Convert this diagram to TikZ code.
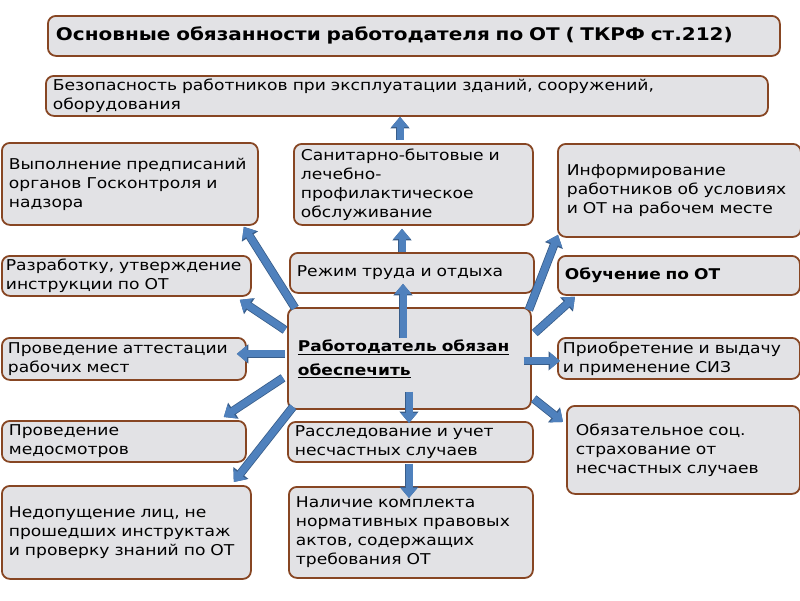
\documentclass[tikz,border=0pt]{standalone}
\usepackage{fontspec}
\setmainfont{DejaVu Sans}[FakeStretch=1.15]
\usetikzlibrary{arrows.meta,calc}
\definecolor{boxedge}{RGB}{135,70,35}
\definecolor{marble}{RGB}{226,226,229}
\definecolor{arrowblue}{RGB}{79,129,189}
\definecolor{arrowedge}{RGB}{56,93,138}
\tikzset{
  marble box/.style={
    draw=boxedge,
    line width=1.8pt,
    fill=marble,
    rounded corners=8pt,
    anchor=north west,
    align=left,
    inner xsep=7pt,
    inner ysep=0pt,
    text width={#1},
    font=\fontsize{14.9}{19}\selectfont,
  },
  bold text/.style={
    font=\fontsize{14.8}{24}\selectfont\bfseries,
  },
  fat arrow/.style={
    preaction={draw=arrowedge, line width=8.6pt, -{Triangle[width=18.5pt,length=11.5pt]}},
    draw=arrowblue,
    line width=7pt,
    -{Triangle[width=16pt,length=10pt]},
  }
}
\begin{document}
\begin{tikzpicture}[x=1pt,y=-1pt]
        \useasboundingbox (0,0) rectangle (800,600);
        \node [marble box=716pt, minimum height=40pt, inner xsep=8pt, font=\fontsize{17.4}{20}\selectfont\bfseries] (title) at (47,15) {Основные обязанности работодателя по ОТ ( ТКРФ ст.212)};
        \node [marble box=708pt, minimum height=40pt] (safety) at (45,75) {Безопасность работников при эксплуатации зданий, сооружений,\\оборудования};

        \node [marble box=242pt, minimum height=82pt] (orders) at (1,142) {Выполнение предписаний\\органов Госконтроля и\\надзора};
        \node [marble box=225pt, minimum height=81pt] (sanitary) at (293,143) {Санитарно-бытовые и\\лечебно-\\профилактическое\\обслуживание};
        \node [marble box=225pt, minimum height=93pt, inner xsep=9pt] (inform) at (557,143) {Информирование\\работников об условиях\\и ОТ на рабочем месте};

        \node [marble box=241pt, minimum height=40pt, inner xsep=4pt] (rules) at (1,255) {Разработку, утверждение\\инструкции по ОТ};
        \node [marble box=230pt, minimum height=40pt] (regime) at (289,252) {Режим труда и отдыха};
        \node [marble box=228pt, minimum height=39pt, bold text] (training) at (557,255) {Обучение по ОТ};

        \node [marble box=223pt, minimum height=101pt, inner xsep=10pt, bold text] (employer) at (287,307) {\underline{Работодатель обязан}\\\underline{обеспечить}};

        \node [marble box=232pt, minimum height=42pt, inner xsep=6pt] (audit) at (1,337) {Проведение аттестации\\рабочих мест};
        \node [marble box=232pt, minimum height=41pt, inner xsep=5pt] (ppe) at (557,337) {Приобретение и выдачу\\и применение СИЗ};
        \node [marble box=215pt, minimum height=88pt, inner xsep=9pt] (insurance) at (566,405) {Обязательное соц.\\страхование от\\несчастных случаев};

        \node [marble box=230pt, minimum height=41pt] (medical) at (1,420) {Проведение\\медосмотров};
        \node [marble box=231pt, minimum height=40pt] (accidents) at (287,421) {Расследование и учет\\несчастных случаев};

        \node [marble box=235pt, minimum height=93pt] (admission) at (1,485) {Недопущение лиц, не\\прошедших инструктаж\\и проверку знаний по ОТ};
        \node [marble box=230pt, minimum height=91pt] (acts) at (288,486) {Наличие комплекта\\нормативных правовых\\актов, содержащих\\требования ОТ};

        \draw [fat arrow] ($(sanitary.north west)+(107,-3)$) -- ($(safety.south west)+(355,0)$);
        \draw [fat arrow] ($(regime.north west)+(113,0)$) -- ($(sanitary.south west)+(109,3)$);
        \draw [fat arrow] ($(employer.north west)+(116,31)$) -- ($(regime.south west)+(114,-10)$);
        \draw [fat arrow] ($(employer.north west)+(8,1)$) -- ($(orders.south east)+(-15,1)$);
        \draw [fat arrow] ($(employer.north west)+(-2,23)$) -- ($(rules.south east)+(-12,3)$);
        \draw [fat arrow] ($(employer.west)+(-2,-4.5)$) -- ($(audit.east)+(-10,-5)$);
        \draw [fat arrow] ($(employer.west)+(-4,19.5)$) -- ($(medical.north east)+(-23,-3)$);
        \draw [fat arrow] ($(employer.south west)+(6,-3)$) -- ($(admission.north east)+(-18,-3)$);
        \draw [fat arrow] ($(employer.south west)+(122,-18)$) -- ($(accidents.north west)+(122,2)$);
        \draw [fat arrow] ($(accidents.south west)+(122,1)$) -- ($(acts.north west)+(121,12)$);
        \draw [fat arrow] ($(employer.north east)+(-3,3)$) -- ($(inform.south west)+(1,-3)$);
        \draw [fat arrow] ($(employer.north east)+(3,26)$) -- ($(training.south west)+(18,1)$);
        \draw [fat arrow] ($(employer.east)+(-8,2.5)$) -- ($(ppe.west)+(3,2.5)$);
        \draw [fat arrow] ($(employer.south east)+(2,-11)$) -- ($(insurance.north west)+(-3,17)$);
\end{tikzpicture}
\end{document}
